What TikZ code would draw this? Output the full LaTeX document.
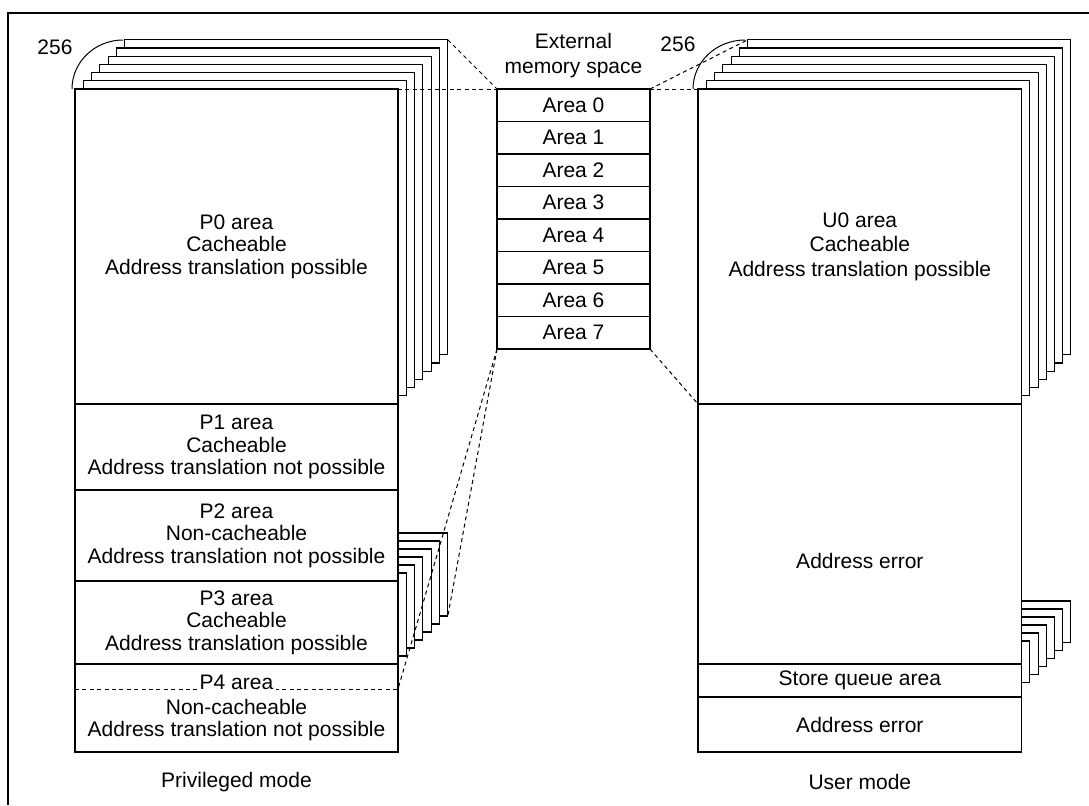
\documentclass[tikz,border=0pt]{standalone}
\usepackage{fontspec}
\setmainfont{Liberation Sans}
\usetikzlibrary{positioning}

\tikzset{
  region/.style={draw, fill=white, line width=0.55pt, align=center, minimum width=161.5pt, inner sep=0pt, outer sep=0pt},
  areacell/.style={draw, fill=white, line width=0.55pt, minimum width=76.5pt, minimum height=16.25pt, inner sep=0pt, outer sep=0pt},
  page/.style={draw, fill=white, line width=0.55pt},
  link/.style={line width=0.5pt, dash pattern=on 2pt off 1.7pt},
}

\begin{document}
\begin{tikzpicture}[x=0.5pt, y=-0.5pt, font=\fontsize{10.5}{11.3}\selectfont]
    \useasboundingbox (0,0) rectangle (1089,805);

    % Frame
    \draw[line width=0.8pt] (8,805) -- (8,13) -- (1089,13);

    % Back pages (256 copies)
    \foreach \k in {6,...,1}
      \draw[page] (75+8.3*\k, 89-8.2*\k) rectangle (398+8.3*\k, 404-8.2*\k);
    \foreach \k in {6,...,1}
      \draw[page] (360, 581-8*\k) rectangle (398+8.3*\k, 664-8*\k);
    \foreach \k in {6,...,1}
      \draw[page] (698+8.3*\k, 89-8.2*\k) rectangle (1021.7+8.2*\k, 404-8.2*\k);
    \foreach \k in {6,...,1}
      \draw[page] (1000, 649-8*\k) rectangle (1021.7+8.2*\k, 691-8.1*\k);

    \coordinate (ptop) at (447.8, 39.8);
    \coordinate (p3top) at (447.8, 616);
    \coordinate (utop) at (747.8, 39.8);

    % Privileged mode
    \node[region, minimum height=157.5pt] (p0) at (236.5, 246.5) {P0 area\\Cacheable\\Address translation possible};
    \node[region, minimum height=43pt, below=0pt of p0] (p1) {P1 area\\Cacheable\\Address translation not possible};
    \node[region, minimum height=45.5pt, below=0pt of p1] (p2) {P2 area\\Non-cacheable\\Address translation not possible};
    \node[region, minimum height=41.5pt, below=0pt of p2] (p3) {P3 area\\Cacheable\\Address translation possible};
    \node[region, minimum height=44pt, below=0pt of p3] (p4) {};
    \coordinate (p4l) at (75, 689);
    \coordinate (p4r) at (398, 689);
    \draw[link] (p4l) -- (p4r);
    \node[fill=white, inner sep=1.5pt, anchor=base] (p4head) at (236.5, 689) {P4 area};
    \node[align=center] (p4txt) at (236.5, 720) {Non-cacheable\\Address translation not possible};
    \node (priv) at (236.5, 782) {Privileged mode};

    % External memory space
    \node[align=center, font=\fontsize{10.5}{12.5}\selectfont] (ext) at (573.5, 55.5) {External\\memory space};
    \node[areacell] (area0) at (573.5, 105.25) {Area 0};
    \foreach \i [remember=\i as \j (initially 0)] in {1,...,7}
      \node[areacell, below=0pt of area\j] (area\i) {Area \i};

    % User mode
    \node[region, minimum width=161.85pt, minimum height=157.5pt, font=\fontsize{10.5}{12.2}\selectfont] (u0) at (859.85, 246.5) {U0 area\\Cacheable\\Address translation possible};
    \node[region, minimum width=161.85pt, minimum height=130pt, below=0pt of u0] (err1) {};
    \node (err1txt) at (859.85, 561) {Address error};
    \node[region, minimum width=161.85pt, minimum height=16.5pt, below=0pt of err1] (sq) {Store queue area};
    \node[region, minimum width=161.85pt, minimum height=27.5pt, below=0pt of sq] (err2) {Address error};
    \node (user) at (859.85, 782) {User mode};

    % 256 marks
    \draw[line width=0.5pt] (72,89) arc[start angle=180, end angle=270, x radius=51, y radius=49];
    \node (cnt1) at (55, 47) {256};
    \draw[line width=0.5pt] (693,89) arc[start angle=180, end angle=270, x radius=52, y radius=49];
    \node (cnt2) at (678, 44) {256};

    % Mapping lines
    \draw[link] (ptop) -- (area0.north west);
    \draw[link] (p0.north east) -- (area0.north west);
    \draw[link] (area0.north east) -- (utop);
    \draw[link] (area0.north east) -- (u0.north west);
    \draw[link] (area7.south east) -- (u0.south west);
    \draw[link] (area7.south west) -- (p3top);
    \draw[link] (area7.south west) -- (p4r);
\end{tikzpicture}
\end{document}
